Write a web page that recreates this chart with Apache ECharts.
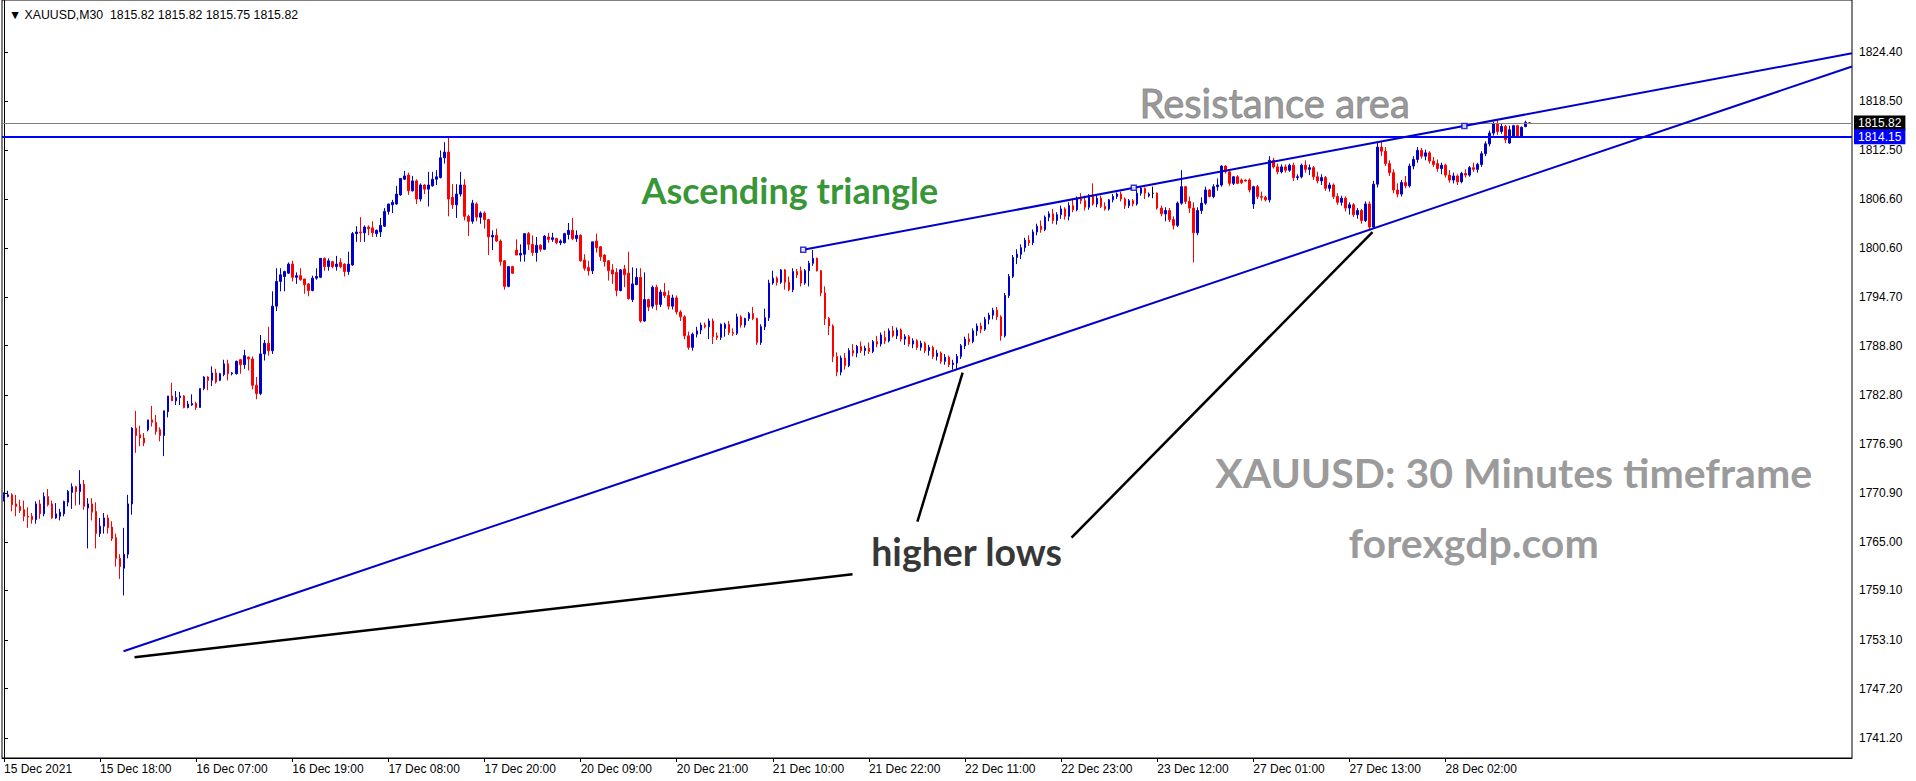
<!DOCTYPE html>
<html><head><meta charset="utf-8">
<script src="https://cdn.jsdelivr.net/npm/echarts@6/dist/echarts.min.js"></script>
<style>html,body{margin:0;padding:0;background:#fff;}#chart{width:1916px;height:781px;}</style>
</head><body><div id="chart"></div>
<script>
const symbolName = 'XAUUSD';
const timeframe = 'M30';
const tradingDays = ['2021-12-15','2021-12-16','2021-12-17','2021-12-20','2021-12-21','2021-12-22','2021-12-23','2021-12-27','2021-12-28'];
const monthNames = ['Jan','Feb','Mar','Apr','May','Jun','Jul','Aug','Sep','Oct','Nov','Dec'];

// candles: [open, high, low, close]
const day15 = [
[1770.1,1771.0,1769.9,1770.7],[1770.5,1771.2,1770.4,1770.7],[1770.7,1770.9,1768.7,1769.5],[1769.6,1770.7,1768.1,1769.3],
[1769.3,1770.1,1768.5,1768.8],[1768.9,1770.0,1767.5,1768.1],[1768.1,1769.2,1766.7,1768.0],[1768.1,1768.5,1767.2,1767.7],
[1767.7,1769.9,1767.2,1769.6],[1769.6,1770.1,1767.8,1768.4],[1768.4,1771.0,1768.1,1770.5],[1770.5,1771.4,1769.3,1769.5],
[1769.6,1770.0,1767.8,1767.9],[1767.9,1769.7,1767.8,1768.4],[1768.1,1769.0,1767.6,1768.6],[1768.4,1770.0,1768.1,1769.9],
[1769.8,1771.3,1769.3,1771.1],[1771.0,1772.1,1769.0,1771.7],[1771.7,1771.8,1769.4,1771.1],[1771.1,1773.7,1769.5,1772.0],
[1772.0,1772.5,1768.9,1769.3],[1769.1,1770.3,1764.2,1769.6],[1769.6,1770.3,1767.6,1768.6],[1768.7,1769.8,1764.2,1766.0],
[1766.0,1767.9,1765.6,1766.9],[1766.9,1768.5,1766.0,1767.9],[1767.9,1768.3,1766.0,1766.7],[1766.8,1767.5,1765.1,1765.4],
[1765.5,1766.0,1762.0,1763.0],[1763.0,1763.5,1760.5,1762.0],[1761.8,1766.7,1758.5,1763.5],[1763.5,1770.7,1763.0,1769.6],
[1769.6,1778.9,1768.3,1778.8],[1778.8,1780.9,1775.8,1777.9],[1778.0,1779.1,1776.6,1777.6],[1777.6,1778.2,1776.6,1777.0]
];
const day16 = [
[1778.6,1779.8,1778.4,1779.8],[1779.8,1781.5,1779.0,1779.5],[1779.5,1780.4,1778.0,1778.4],[1778.6,1778.9,1777.2,1777.9],
[1777.9,1780.9,1775.4,1780.9],[1780.8,1782.7,1780.1,1782.7],[1782.7,1784.3,1782.1,1782.1],[1782.1,1783.3,1781.6,1782.5],
[1782.5,1783.2,1781.6,1782.7],[1782.7,1782.8,1781.2,1781.3],[1781.3,1782.1,1781.2,1781.7],[1781.6,1782.9,1781.5,1781.8],
[1781.8,1782.0,1781.0,1781.3],[1781.3,1783.6,1781.3,1783.6],[1783.6,1785.1,1783.4,1785.0],[1785.0,1785.1,1783.4,1784.6],
[1784.6,1786.3,1783.9,1785.5],[1785.5,1786.0,1784.2,1784.4],[1784.6,1785.5,1784.5,1785.4],[1785.3,1787.1,1785.1,1786.6],
[1786.6,1787.1,1784.6,1785.4],[1785.4,1785.6,1785.2,1785.5],[1785.4,1787.0,1785.3,1786.9],[1787.1,1787.2,1785.4,1786.5],
[1786.5,1788.3,1786.0,1787.6],[1787.4,1787.5,1785.8,1787.2],[1787.2,1787.5,1783.5,1784.0],[1784.0,1785.0,1782.3,1783.0],
[1783.0,1790.1,1782.8,1787.8],[1787.8,1789.5,1787.0,1789.1],[1789.1,1791.1,1787.6,1788.2],[1788.2,1795.4,1787.8,1793.6],
[1793.6,1798.2,1793.0,1796.6],[1796.6,1798.2,1795.4,1797.4],[1797.2,1797.9,1795.4,1797.8],[1797.6,1798.9,1797.5,1798.7],
[1798.7,1799.1,1796.6,1797.1],[1797.1,1797.7,1796.3,1797.3],[1797.3,1798.2,1796.7,1796.8],[1796.9,1796.9,1795.1,1796.2],
[1796.3,1796.4,1794.8,1795.5],[1795.5,1797.3,1795.4,1797.0],[1797.0,1798.2,1796.8,1797.2],[1797.1,1799.4,1797.0,1799.4],
[1799.4,1799.5,1797.9,1798.4],[1798.4,1799.4,1797.9,1799.1]
];
const day17 = [
[1799.0,1799.1,1798.2,1798.4],[1798.4,1799.7,1797.9,1798.7],[1798.9,1799.4,1798.2,1798.4],[1798.7,1798.8,1797.2,1797.8],
[1797.8,1800.2,1797.4,1798.7],[1798.6,1802.6,1798.5,1802.4],[1802.4,1803.3,1801.4,1802.6],[1802.6,1804.4,1801.4,1802.5],
[1802.5,1803.4,1801.4,1803.2],[1803.2,1803.4,1802.2,1803.0],[1803.1,1803.9,1802.0,1802.5],[1802.4,1802.9,1802.0,1802.8],
[1802.6,1804.3,1802.0,1803.4],[1803.3,1805.5,1803.2,1805.1],[1805.1,1806.0,1804.7,1806.0],[1805.9,1806.5,1804.9,1806.2],
[1806.0,1808.2,1805.9,1807.2],[1807.1,1809.1,1807.0,1809.1],[1809.0,1810.0,1808.9,1809.4],[1809.5,1809.8,1807.1,1807.6],
[1807.6,1809.4,1807.5,1808.8],[1808.8,1809.0,1806.0,1806.6],[1806.6,1808.5,1806.3,1808.3],[1808.3,1808.4,1807.2,1807.8],
[1807.8,1809.9,1805.7,1808.3],[1808.2,1809.9,1808.1,1809.0],[1809.0,1810.1,1808.3,1809.3],[1809.2,1812.5,1809.1,1811.6],
[1811.6,1813.5,1810.9,1812.3],[1812.3,1814.1,1804.5,1806.6],[1806.8,1808.4,1805.4,1805.9],[1805.9,1808.4,1804.3,1807.2],
[1807.2,1809.9,1806.9,1808.3],[1808.3,1809.0,1804.0,1804.5],[1804.5,1804.7,1802.1,1803.9],[1803.9,1806.5,1803.6,1806.1],
[1806.0,1806.2,1803.9,1804.4],[1804.4,1805.1,1803.6,1804.9],[1804.9,1805.1,1803.0,1804.1],[1804.1,1804.2,1799.8,1802.0],
[1802.0,1802.8,1800.4,1802.2],[1802.2,1803.0,1801.4,1801.5],[1801.5,1801.7,1798.5,1799.0],[1799.1,1799.2,1795.6,1796.0],
[1796.0,1798.4,1795.9,1798.4],[1798.4,1798.5,1797.5,1797.6]
];
const day20 = [
[1800.4,1801.7,1799.8,1799.8],[1799.8,1801.1,1799.0,1800.0],[1799.9,1802.4,1799.0,1802.4],[1802.4,1802.6,1800.4,1801.1],
[1801.1,1802.2,1799.7,1800.1],[1800.1,1802.0,1799.0,1801.0],[1801.0,1801.1,1800.2,1800.5],[1800.5,1802.2,1800.4,1802.1],
[1802.0,1802.5,1801.3,1801.7],[1801.7,1802.5,1801.4,1801.9],[1801.8,1801.9,1801.1,1801.3],[1801.3,1801.7,1801.0,1801.5],
[1801.3,1802.5,1801.2,1802.4],[1802.3,1803.7,1801.7,1802.8],[1802.8,1804.3,1801.6,1801.8],[1801.8,1802.8,1801.4,1802.2],
[1802.2,1802.3,1799.0,1799.1],[1799.2,1799.9,1797.9,1798.2],[1798.3,1799.1,1797.3,1797.9],[1797.9,1801.4,1797.5,1801.4],
[1801.5,1802.4,1800.1,1800.7],[1800.8,1800.9,1799.1,1799.6],[1799.8,1799.9,1798.4,1799.0],[1799.1,1799.2,1796.7,1797.9],
[1798.0,1798.7,1796.3,1797.5],[1797.7,1798.2,1794.8,1795.5],[1795.5,1798.1,1795.4,1798.0],[1798.1,1798.6,1795.9,1797.4],
[1797.6,1800.2,1794.4,1794.5],[1794.4,1798.3,1794.1,1796.3],[1796.2,1798.2,1796.2,1797.1],[1797.1,1798.2,1791.6,1791.8],
[1791.8,1797.7,1791.7,1794.4],[1794.4,1794.5,1793.0,1793.5],[1793.6,1796.1,1793.3,1795.9],[1795.9,1796.2,1793.1,1793.8],
[1793.8,1795.6,1793.5,1795.3],[1795.3,1796.4,1794.6,1794.9],[1794.9,1795.5,1793.2,1793.6],[1793.6,1795.0,1793.2,1794.6],
[1794.6,1794.9,1792.6,1792.9],[1792.9,1793.1,1791.8,1792.3],[1792.3,1792.5,1789.6,1790.0],[1790.0,1790.5,1788.3,1788.6],
[1788.6,1790.4,1788.2,1790.2],[1790.2,1791.1,1789.8,1790.6]
];
const day21 = [
[1790.7,1791.6,1790.2,1791.3],[1791.3,1791.6,1790.9,1791.1],[1791.1,1792.1,1789.6,1791.8],[1791.8,1792.1,1789.0,1789.9],
[1790.0,1790.4,1789.5,1789.8],[1789.8,1791.5,1789.5,1791.4],[1790.9,1791.6,1789.9,1791.4],[1791.4,1791.8,1790.1,1790.4],
[1790.4,1790.9,1790.0,1790.3],[1790.3,1792.7,1790.1,1792.3],[1792.3,1792.5,1791.0,1791.3],[1791.3,1792.2,1791.0,1792.1],
[1792.1,1792.9,1791.8,1792.7],[1792.7,1793.5,1791.9,1792.1],[1792.1,1792.2,1788.9,1789.2],[1789.2,1791.4,1788.9,1791.1],
[1791.1,1793.3,1790.7,1792.2],[1792.2,1796.8,1791.8,1796.4],[1796.4,1797.9,1796.2,1797.0],[1797.0,1797.2,1796.1,1796.5],
[1796.5,1798.1,1796.3,1798.0],[1798.0,1798.1,1795.6,1796.5],[1796.5,1797.2,1795.4,1795.6],[1795.6,1798.2,1795.3,1797.8],
[1797.8,1798.1,1797.0,1797.4],[1797.9,1798.4,1796.0,1796.4],[1796.4,1798.1,1796.2,1797.9],[1797.9,1799.1,1796.0,1798.8],
[1798.8,1800.4,1798.5,1799.4],[1799.4,1799.5,1797.8,1797.9],[1797.9,1798.0,1794.8,1795.2],[1795.2,1796.0,1791.3,1792.1],
[1792.1,1792.3,1790.1,1791.2],[1791.2,1791.4,1786.8,1787.5],[1787.5,1788.0,1785.1,1785.6],[1785.6,1787.6,1785.2,1787.3],
[1787.3,1787.9,1785.9,1786.4],[1786.4,1788.5,1786.2,1788.2],[1788.2,1789.0,1787.5,1787.9],[1787.9,1788.9,1787.4,1788.7],
[1788.7,1789.3,1787.9,1788.2],[1788.2,1788.8,1787.6,1788.5],[1788.5,1789.2,1787.8,1788.1],[1788.1,1789.5,1787.9,1789.3],
[1789.3,1790.0,1788.6,1789.0],[1789.0,1790.4,1788.7,1790.1]
];
const day22 = [
[1789.8,1790.6,1789.0,1789.4],[1789.4,1790.9,1789.2,1790.6],[1790.6,1791.2,1789.8,1790.0],[1790.0,1791.0,1789.6,1790.7],
[1790.7,1790.9,1789.3,1789.6],[1789.6,1790.2,1788.9,1789.9],[1789.9,1790.1,1788.7,1789.0],[1789.0,1789.7,1788.5,1789.4],
[1789.4,1789.6,1788.3,1788.6],[1788.6,1789.4,1788.2,1789.1],[1789.1,1789.3,1787.9,1788.2],[1788.2,1788.9,1787.6,1788.6],
[1788.6,1788.8,1787.2,1787.5],[1787.5,1788.3,1787.0,1787.9],[1787.9,1788.1,1786.6,1786.9],[1786.9,1787.8,1786.5,1787.4],
[1787.4,1787.6,1786.2,1786.5],[1786.5,1787.1,1785.9,1786.7],[1786.7,1787.8,1786.0,1787.5],[1787.5,1789.0,1787.2,1788.8],
[1788.8,1789.9,1788.4,1789.6],[1789.6,1790.3,1788.9,1789.3],[1789.3,1790.9,1789.1,1790.6],[1790.6,1791.5,1790.0,1791.2],
[1791.2,1791.6,1790.3,1790.8],[1790.8,1792.3,1790.6,1792.0],[1792.0,1792.8,1791.4,1792.5],[1792.5,1793.4,1792.0,1793.1],
[1793.1,1793.5,1791.9,1792.3],[1792.3,1792.5,1789.4,1790.0],[1790.0,1795.2,1789.8,1794.9],[1794.9,1797.5,1794.6,1797.2],
[1797.2,1799.8,1797.0,1799.5],[1799.5,1800.5,1798.7,1799.9],[1799.9,1801.1,1799.3,1800.7],[1800.7,1801.9,1800.2,1801.6],
[1801.6,1802.2,1800.9,1801.3],[1801.3,1802.9,1801.0,1802.6],[1802.6,1803.6,1802.2,1803.3],[1803.3,1804.0,1802.5,1802.9],
[1802.9,1804.6,1802.7,1804.4],[1804.4,1805.1,1803.9,1804.8],[1804.8,1805.4,1803.6,1804.0],[1804.0,1805.0,1803.5,1804.7],
[1804.7,1805.8,1804.2,1805.4],[1805.4,1805.6,1804.1,1804.5]
];
const day23 = [
[1804.5,1806.2,1804.0,1805.8],[1805.8,1806.6,1805.0,1805.3],[1805.3,1806.9,1805.1,1806.6],[1806.6,1807.3,1806.0,1806.4],
[1806.4,1807.0,1805.2,1805.6],[1805.6,1807.2,1805.3,1807.0],[1807.0,1808.5,1805.8,1806.0],[1806.0,1807.0,1805.6,1806.7],
[1806.7,1807.0,1805.5,1805.7],[1805.7,1806.2,1805.2,1805.4],[1805.4,1806.6,1805.2,1806.5],[1806.5,1807.2,1806.2,1806.9],
[1806.9,1807.4,1806.6,1807.2],[1807.2,1807.5,1806.3,1806.6],[1806.6,1806.8,1805.4,1805.8],[1805.8,1806.6,1805.5,1806.4],
[1806.4,1806.6,1805.7,1806.0],[1806.0,1807.7,1805.8,1807.3],[1807.3,1808.1,1807.0,1807.9],[1807.9,1808.0,1806.6,1807.3],
[1807.0,1807.4,1806.8,1807.2],[1807.3,1808.1,1806.7,1807.3],[1807.3,1807.4,1805.3,1805.5],[1805.5,1805.8,1804.5,1804.8],
[1804.8,1805.6,1803.9,1805.2],[1805.2,1805.5,1803.8,1804.1],[1804.1,1804.5,1802.9,1803.4],[1803.4,1806.3,1803.2,1806.1],
[1806.1,1810.1,1805.9,1808.1],[1808.1,1808.2,1806.0,1806.3],[1806.3,1806.9,1804.9,1805.5],[1805.5,1806.2,1798.9,1802.5],
[1802.5,1805.6,1802.2,1805.2],[1805.2,1806.8,1804.8,1806.1],[1806.1,1808.1,1805.9,1807.7],[1807.7,1807.8,1806.8,1806.9],
[1806.9,1808.4,1806.7,1808.1],[1808.1,1809.1,1807.6,1808.3],[1808.3,1810.7,1808.1,1810.6],[1810.6,1810.7,1809.7,1809.9],
[1809.9,1810.0,1808.2,1808.5],[1808.5,1809.4,1808.3,1809.3],[1809.3,1809.5,1808.4,1808.5],[1808.9,1809.1,1808.4,1808.6],
[1808.9,1809.0,1808.7,1808.8],[1808.9,1809.1,1807.4,1807.7]
];
const day27 = [
[1806.0,1808.2,1805.4,1808.1],[1808.1,1808.3,1806.6,1806.9],[1806.9,1807.5,1806.4,1806.8],[1806.8,1807.0,1806.3,1806.5],
[1806.5,1811.8,1806.2,1811.3],[1811.3,1811.6,1810.3,1810.5],[1810.5,1810.9,1809.6,1809.9],[1809.9,1810.8,1809.7,1810.5],
[1810.5,1810.8,1809.8,1810.1],[1810.1,1810.9,1809.9,1810.7],[1810.7,1811.0,1808.8,1809.2],[1809.2,1809.6,1808.9,1809.3],
[1809.3,1810.9,1809.1,1810.7],[1810.7,1811.3,1809.8,1810.2],[1810.2,1810.8,1809.5,1810.4],[1810.4,1810.6,1808.9,1809.3],
[1809.3,1809.9,1808.5,1808.8],[1808.8,1809.6,1808.3,1809.2],[1809.2,1809.4,1807.6,1807.9],[1807.9,1808.6,1807.5,1808.3],
[1808.3,1808.5,1806.6,1806.9],[1806.9,1807.3,1805.9,1806.2],[1806.2,1807.0,1805.8,1806.7],[1806.7,1806.9,1805.1,1805.5],
[1805.5,1806.2,1804.7,1805.9],[1805.9,1806.1,1804.4,1804.7],[1804.7,1805.5,1804.2,1805.2],[1805.2,1805.4,1803.6,1804.0],
[1804.0,1806.3,1803.8,1806.0],[1806.0,1806.3,1802.8,1803.2],[1803.2,1808.8,1803.0,1808.4],[1808.4,1813.4,1808.0,1812.9],
[1812.9,1813.6,1811.8,1812.4],[1812.4,1812.9,1810.6,1810.9],[1810.9,1811.3,1809.4,1809.8],[1809.8,1810.2,1807.3,1807.7],
[1807.7,1808.5,1806.8,1807.2],[1807.2,1808.9,1806.9,1808.6],[1808.6,1809.4,1807.9,1808.2],[1808.2,1810.9,1808.0,1810.6],
[1810.6,1811.8,1810.2,1811.4],[1811.4,1812.9,1811.0,1812.5],[1812.5,1812.8,1811.5,1811.8],[1811.8,1812.6,1811.3,1812.2],
[1812.2,1812.4,1810.9,1811.2],[1811.2,1811.7,1810.5,1810.8]
];
const day28 = [
[1810.9,1811.4,1809.9,1810.3],[1810.3,1811.0,1809.6,1810.7],[1810.7,1810.9,1809.2,1809.5],[1809.5,1810.1,1808.6,1808.9],
[1808.9,1809.8,1808.5,1809.4],[1809.4,1809.6,1808.3,1808.7],[1808.7,1809.9,1808.5,1809.7],[1809.7,1810.2,1809.2,1809.5],
[1809.5,1810.6,1809.3,1810.4],[1810.4,1811.0,1809.9,1810.2],[1810.2,1811.0,1809.8,1810.8],[1810.8,1812.4,1810.5,1812.1],
[1812.1,1813.6,1811.8,1813.3],[1813.3,1814.9,1813.0,1814.6],[1814.6,1816.0,1814.3,1815.7],[1815.7,1816.1,1814.4,1814.8],
[1814.8,1815.8,1814.5,1815.4],[1815.4,1815.6,1813.4,1813.8],[1813.4,1815.5,1813.3,1815.0],[1814.2,1815.6,1814.0,1815.5],
[1815.5,1815.6,1814.1,1814.25],[1814.2,1815.4,1814.1,1815.3],[1815.4,1816.1,1815.3,1815.9],[1815.82,1815.82,1815.75,1815.82]
];
const candles = [].concat(day15, day16, day17, day20, day21, day22, day23, day27, day28);

const yTickLabels = [1741.20,1747.20,1753.10,1759.10,1765.00,1770.90,1776.90,1782.80,1788.80,1794.70,1800.60,1806.60,1812.50,1818.50,1824.40];
const yMin = 1738.77, yMax = 1830.75;
const slotCount = 462;           // bar slots across the chart, including the empty space on the right
const labelEvery = 24;           // bars between time labels
const resistanceLevel = 1814.15;
const bidLevel = 1815.82;
// trend line anchors: [bar index, price]
const upperTrendAnchors = [[199.6,1800.45],[364.7,1815.47]];
const lowerTrendAnchors = [[29.85,1751.72],[238.2,1785.97]];
const higherLowsPointers = [
  [[32.6,1750.99],[211.9,1761.07]],
  [[228.1,1767.44],[239.4,1785.53]],
  [[266.6,1765.51],[341.75,1802.58]]
];
const noteTexts = ['Resistance area','Ascending triangle','XAUUSD: 30 Minutes timeframe','forexgdp.com','higher lows'];
const noteAnchors = [[317.3,1818.2],[196.25,1807.7],[377,1773.4],[367,1764.9],[240.4,1763.8]];

// ---- build times for the category axis ----
const times = [];
tradingDays.forEach((d, di) => {
  const startMin = di === 0 ? 6*60 : 60;
  for (let m = startMin; m <= 23*60+30; m += 30) {
    const hh = String(Math.floor(m/60)).padStart(2,'0'), mm = String(m%60).padStart(2,'0');
    times.push(d + ' ' + hh + ':' + mm);
  }
});
const categories = [];
for (let i = 0; i < slotCount; i++) categories.push(i < candles.length ? times[i] : '');

const candleData = candles.map(([o,h,l,c]) => {
  const item = { value: [o, c, l, h] };
  if (o === c) item.itemStyle = { color: '#000', color0: '#000', borderColor: '#000', borderColor0: '#000' };
  return item;
});

const xEnd = slotCount - 0.5;
function ray(a) {
  const [[x1,y1],[x2,y2]] = a; const k = (y2-y1)/(x2-x1);
  return [[x1,y1],[xEnd, y1 + k*(xEnd-x1)]];
}
function midPoint(a){ return [(a[0][0]+a[1][0])/2,(a[0][1]+a[1][1])/2]; }

const last = candles[candles.length-1];
const headerText = '\u25BC ' + symbolName + ',' + timeframe + '  ' + last.map(v=>v.toFixed(2)).join(' ');

const noteStyles = [
  { color:'#808080', fontSize:40, fontWeight:'normal', textBorderColor:'#808080', textBorderWidth:0.9 },
  { color:'#007A00', fontSize:36, fontWeight:'bold' },
  { color:'#808080', fontSize:41, fontWeight:'bold' },
  { color:'#808080', fontSize:41, fontWeight:'bold' },
  { color:'#000000', fontSize:37.5, fontWeight:'bold' }
];

const chart = echarts.init(document.getElementById('chart'), null, { renderer: 'svg' });
const TREND = '#0000CD';
chart.setOption({
  animation: false,
  backgroundColor: '#ffffff',
  title: { text: headerText, left: 4, top: 4, textStyle: { fontFamily: 'Liberation Sans', fontSize: 12.3, fontWeight: 'normal', color: '#000' } },
  grid: { left: 2, right: 64, top: 0, bottom: 23, show: true, borderColor: '#000', borderWidth: 1, backgroundColor: 'transparent', outerBoundsMode: 'none', containLabel: false },
  xAxis: [
    { type: 'category', data: categories, boundaryGap: true,
      axisLine: { show: true, lineStyle: { color: '#000', width: 1 } },
      axisTick: { show: true, alignWithLabel: true, length: 4, lineStyle: { color: '#000' },
        interval: (i) => i % labelEvery === 0 && i < candles.length },
      axisLabel: { show: true, align: 'left', margin: 5, color: '#000', fontFamily: 'Liberation Sans', fontSize: 12, hideOverlap: false,
        interval: (i) => i % labelEvery === 0 && i < candles.length,
        formatter: (val, idx) => {
          if (!val) return '';
          const [d, t] = val.split(' '); const p = d.split('-');
          const dd = +p[2], mon = monthNames[+p[1]-1];
          return idx === 0 ? dd + ' ' + mon + ' ' + p[0] : dd + ' ' + mon + ' ' + t;
        } },
      splitLine: { show: false } },
    { type: 'value', min: -0.5, max: xEnd, show: false }
  ],
  yAxis: { type: 'value', position: 'right', min: yMin, max: yMax, scale: true,
    axisLine: { show: true, lineStyle: { color: '#000', width: 1 } },
    axisTick: { show: true, length: 4, customValues: yTickLabels, lineStyle: { color: '#000' } },
    axisLabel: { show: true, customValues: yTickLabels, formatter: (v) => v.toFixed(2), color: '#000', fontFamily: 'Liberation Sans', fontSize: 12, margin: 7 },
    splitLine: { show: false } },
  series: [
    { type: 'candlestick', xAxisIndex: 0, data: candleData, barWidth: 2, z: 2,
      itemStyle: { color: '#0000CD', color0: '#FF0000', borderColor: '#0000CD', borderColor0: '#FF0000', borderWidth: 1 },
      markLine: { silent: true, symbol: ['none','none'], animation: false, z: 3,
        data: [
          { yAxis: bidLevel, lineStyle: { color: '#808080', width: 1, type: 'solid' },
            label: { show: true, position: 'end', distance: 2, formatter: (p) => p.value.toFixed(2), color: '#fff', backgroundColor: '#000', padding: [2,4,1,4], fontFamily: 'Liberation Sans', fontSize: 12 } },
          { yAxis: resistanceLevel, lineStyle: { color: '#0000FF', width: 2, type: 'solid' },
            label: { show: true, position: 'end', distance: 2, formatter: (p) => p.value.toFixed(2), color: '#fff', backgroundColor: '#0000FF', padding: [2,4,1,4], fontFamily: 'Liberation Sans', fontSize: 12 } }
        ] } },
    { type: 'line', xAxisIndex: 1, data: ray(upperTrendAnchors), symbol: 'none', lineStyle: { color: TREND, width: 2 }, z: 4 },
    { type: 'line', xAxisIndex: 1, data: ray(lowerTrendAnchors), symbol: 'none', lineStyle: { color: TREND, width: 2 }, z: 4 },
    { type: 'scatter', xAxisIndex: 1, data: [upperTrendAnchors[0], midPoint(upperTrendAnchors), upperTrendAnchors[1]], symbol: 'rect', symbolSize: 5,
      itemStyle: { color: '#fff', borderColor: TREND, borderWidth: 1.5 }, z: 5 },
    ...higherLowsPointers.map(seg => ({ type: 'line', xAxisIndex: 1, data: seg, symbol: 'none', lineStyle: { color: '#000', width: 2.5 }, z: 4 })),
    { type: 'scatter', xAxisIndex: 1, symbolSize: 0, z: 6,
      data: noteTexts.map((t, i) => ({ value: noteAnchors[i],
        label: Object.assign({ show: true, position: 'inside', formatter: t, fontFamily: 'Lato', align: 'center', verticalAlign: 'middle' }, noteStyles[i]) })) }
  ]
});
</script></body></html>
